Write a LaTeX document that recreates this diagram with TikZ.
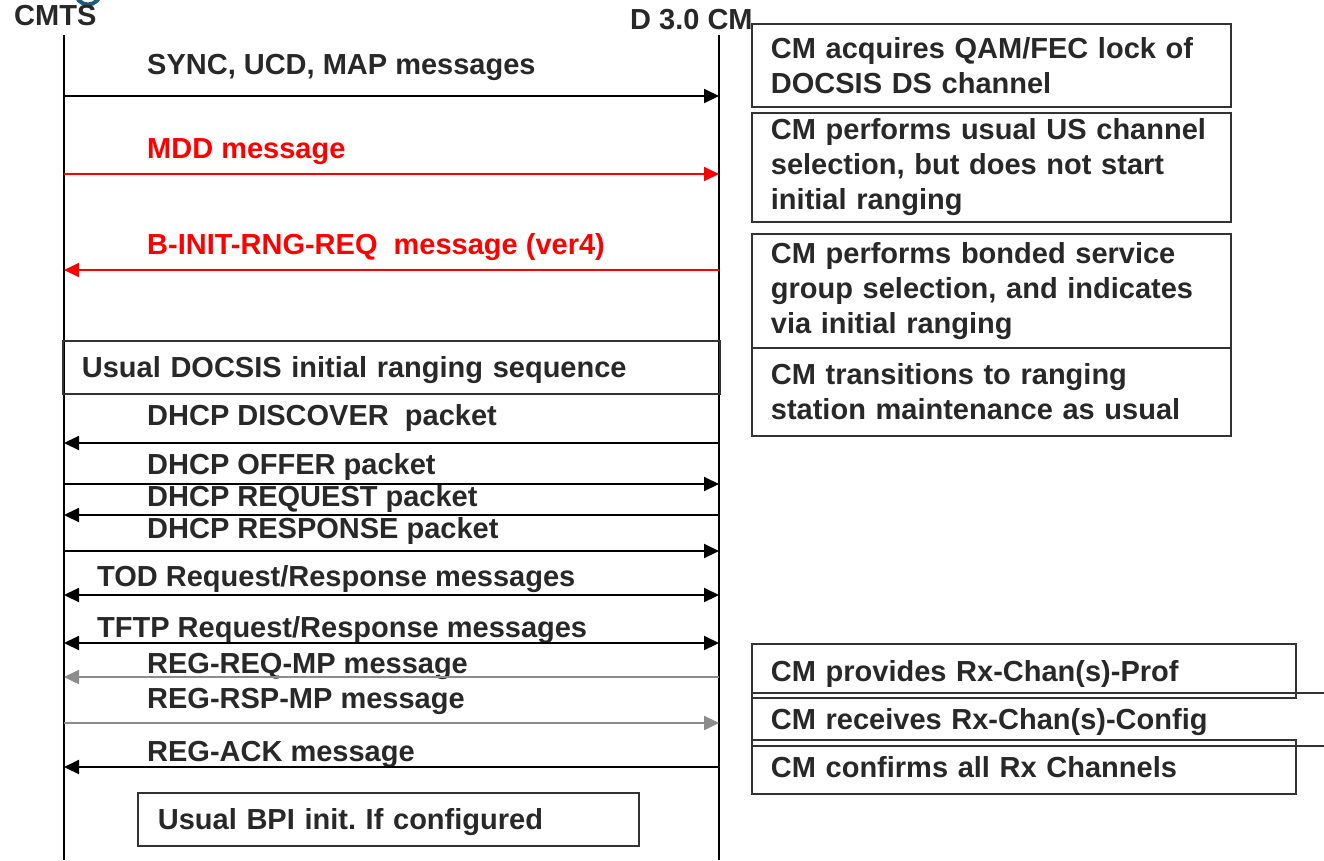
\documentclass[tikz,border=0pt]{standalone}
\usepackage{fontspec}
\setmainfont{Liberation Sans}
\usetikzlibrary{arrows.meta}
\definecolor{txt}{HTML}{282828}
\definecolor{boxline}{HTML}{333333}
\definecolor{msgred}{HTML}{FF0000}
\definecolor{msggray}{HTML}{8C8C8C}
\definecolor{logo}{HTML}{1F5B7A}
\tikzset{
  bigfont/.style={font=\bfseries\fontsize{29}{35}\selectfont},
  lbl/.style={bigfont, anchor=base west, inner sep=0pt, text=txt},
  rlbl/.style={lbl, text=msgred},
  head/.style={anchor=base west, inner sep=0pt, text=txt, font=\bfseries\fontsize{29}{34}\selectfont},
  life/.style={line width=2pt, black},
  tip/.tip={Triangle[length=15pt,width=14pt]},
  msg/.style={line width=2pt, black, -tip},
  bimsg/.style={line width=2pt, black, tip-tip},
  redmsg/.style={line width=1.8pt, msgred, -tip},
  graymsg/.style={line width=2.4pt, msggray, -tip},
  infobox/.style={bigfont, draw=boxline, line width=1.8pt, anchor=north west, align=left,
    inner xsep=19pt, inner ysep=0pt, text=txt},
  onebox/.style={infobox, text depth=0pt},
}
\begin{document}
\begin{tikzpicture}[x=1pt,y=-1pt]
\useasboundingbox (0,0) rectangle (1324,860);
\clip (0,0) rectangle (1324,860);

% logo fragment
\draw[logo, line width=4pt] (88,-8) circle (12.5);

% heads
\node[head] (cmts) at (14,25) {CMTS};
\node[head] (cm) at (630,29) {D 3.0 CM};

% lifelines
\coordinate (L) at (64,35);
\coordinate (R) at (719,35);
\coordinate (Lend) at (64,860);
\coordinate (Rend) at (719,860);
\draw[life] (L) -- (Lend);
\draw[life] (R) -- (Rend);

% messages
\node[lbl] (m1) at (147,74) {SYNC, UCD, MAP messages};
\draw[msg] (L |- 0,96) -- (R |- 0,96);

\node[rlbl] (m2) at (147,158) {MDD message};
\draw[redmsg] (L |- 0,174) -- (R |- 0,174);

\node[rlbl] (m3) at (147,254) {B-INIT-RNG-REQ~ message (ver4)};
\draw[redmsg] (R |- 0,270) -- (L |- 0,270);

\node[onebox, minimum width=657pt, minimum height=53pt, text width=619pt] (rng) at (62,340)
  {Usual DOCSIS initial ranging sequence};

\node[lbl] (m4) at (147,425) {DHCP DISCOVER~ packet};
\draw[msg] (R |- 0,443) -- (L |- 0,443);

\node[lbl] (m5) at (147,474) {DHCP OFFER packet};
\draw[msg] (L |- 0,484) -- (R |- 0,484);

\node[lbl] (m6) at (147,506) {DHCP REQUEST packet};
\draw[msg] (R |- 0,515) -- (L |- 0,515);

\node[lbl] (m7) at (147,538) {DHCP RESPONSE packet};
\draw[msg] (L |- 0,551) -- (R |- 0,551);

\node[lbl] (m8) at (97,586) {TOD Request/Response messages};
\draw[bimsg] (L |- 0,595) -- (R |- 0,595);

\node[lbl] (m9) at (97,637) {TFTP Request/Response messages};
\draw[bimsg] (L |- 0,643) -- (R |- 0,643);

\node[lbl] (m10) at (147,673) {REG-REQ-MP message};
\draw[graymsg] (R |- 0,677) -- (L |- 0,677);

\node[lbl] (m11) at (147,708) {REG-RSP-MP message};
\draw[graymsg] (L |- 0,723) -- (R |- 0,723);

\node[lbl] (m12) at (147,761) {REG-ACK message};
\draw[msg] (R |- 0,767) -- (L |- 0,767);

\node[onebox, minimum width=501pt, minimum height=53pt, text width=461pt, inner xsep=20pt] (bpi) at (137,792)
  {Usual BPI init.\ If configured};

% right-hand notes
\node[infobox, minimum width=479pt, minimum height=83pt, text width=441pt] (b1) at (751,23)
  {CM acquires QAM/FEC lock of\\DOCSIS DS channel};
\node[infobox, minimum width=479pt, minimum height=109pt, text width=441pt] (b2) at (751,112)
  {CM performs usual US channel\\selection, but does not start\\initial ranging};
\node[infobox, minimum width=479pt, minimum height=114pt, text width=441pt] (b3) at (751,233)
  {CM performs bonded service\\group selection, and indicates\\via initial ranging};
\node[infobox, minimum width=479pt, minimum height=88pt, text width=441pt] (b4) at (751,347)
  {CM transitions to ranging\\station maintenance as usual};

\node[onebox, minimum width=544pt, minimum height=54pt, text width=506pt] (bA) at (751,643)
  {CM provides Rx-Chan(s)-Prof};
\node[onebox, minimum width=600pt, minimum height=53pt, text width=562pt] (bB) at (751,692)
  {CM receives Rx-Chan(s)-Config};
\node[onebox, minimum width=544pt, minimum height=54pt, text width=506pt] (bC) at (751,739)
  {CM confirms all Rx Channels};
\end{tikzpicture}
\end{document}
